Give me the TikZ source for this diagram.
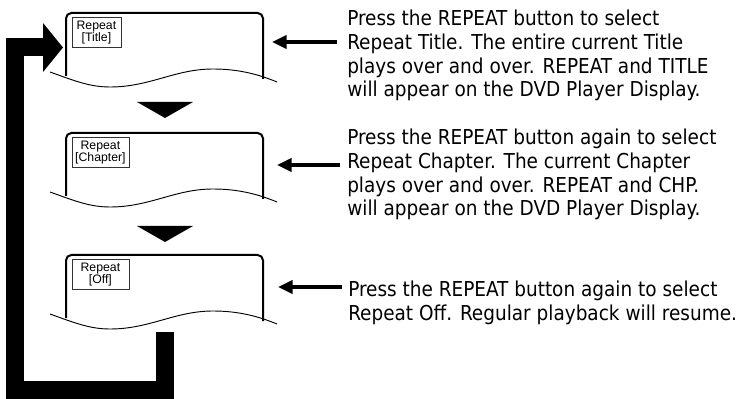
\documentclass[tikz,border=0pt]{standalone}
\usepackage{fontspec}
\setmainfont{DejaVu Sans Condensed}
\newfontfamily\lblfont{Liberation Sans}
\usetikzlibrary{arrows.meta,calc}

\begin{document}
\begin{tikzpicture}[
  x=0.75pt,y=-0.75pt,
  panelline/.style={line width=1.5pt,rounded corners=4pt},
  wave/.style={line width=0.7pt},
  lbl/.style={draw=black!80,line width=0.6pt,font=\lblfont\fontsize{9.2}{8.6}\selectfont,
    align=center,inner sep=1pt,minimum height=22.5pt},
  desc/.style={font=\fontsize{15.4}{17.7}\selectfont,align=left,inner sep=0pt,anchor=north west},
  ptr/.style={line width=2.3pt,-{Triangle[length=11pt,width=10pt]}},
  loopbar/.style={line width=13.5pt,line join=miter,-{Triangle[length=15pt,width=36pt]}},
  ]
\useasboundingbox (0,0) rectangle (743,399);

% ================= display panels =================
\foreach \n/\t/\w/\lbl in {1/13/49/{Repeat\\{[Title]}},2/133/57/{Repeat\\{[Chapter]}},3/255/57/{Repeat\\{[Off]}}}{
  \draw[panelline] (66,\t+63) -- (66,\t) -- (263,\t) -- (263,\t+66);
  \draw[wave] (50,\t+59) .. controls (75,\t+68) and (90,\t+74) .. (110,\t+74)
    .. controls (150,\t+74) and (175,\t+56) .. (213,\t+56)
    .. controls (240,\t+56) and (260,\t+62) .. (277,\t+69);
  \node[lbl,minimum width=\w*0.75pt,anchor=north west] (l\n) at (71.5,\t+4) {\lbl};
}

% ---- step triangles between the panels ----
\foreach \t in {102,226}{\fill (137,\t) -- (193,\t) -- (165,\t+16) -- cycle;}

% ================= descriptions =================
\node[desc] (d1) at (347,10) {Press the REPEAT button to select\\Repeat Title. The entire current Title\\plays over and over. REPEAT and TITLE\\will appear on the DVD Player Display.};
\node[desc] (d2) at (347,129) {Press the REPEAT button again to select\\Repeat Chapter. The current Chapter\\plays over and over. REPEAT and CHP.\\will appear on the DVD Player Display.};
\node[desc] (d3) at (348,281) {Press the REPEAT button again to select\\Repeat Off. Regular playback will resume.};

\coordinate (a1) at (272,42);
\coordinate (a2) at (277,165);
\coordinate (a3) at (278,287);
\draw[ptr] (d1.west |- a1) ++(-10,0) -- (a1);
\draw[ptr] (d2.west |- a2) ++(-7,0) -- (a2);
\draw[ptr] (d3.west |- a3) ++(-6,0) -- (a3);

% ================= loop back to the first panel =================
\coordinate (back) at (164.5,332);
\coordinate (p1w) at (63,47.5);
\draw[loopbar] (back) -- ++(0,58) -| (14.5,47.5) -- (p1w);

\end{tikzpicture}
\end{document}
